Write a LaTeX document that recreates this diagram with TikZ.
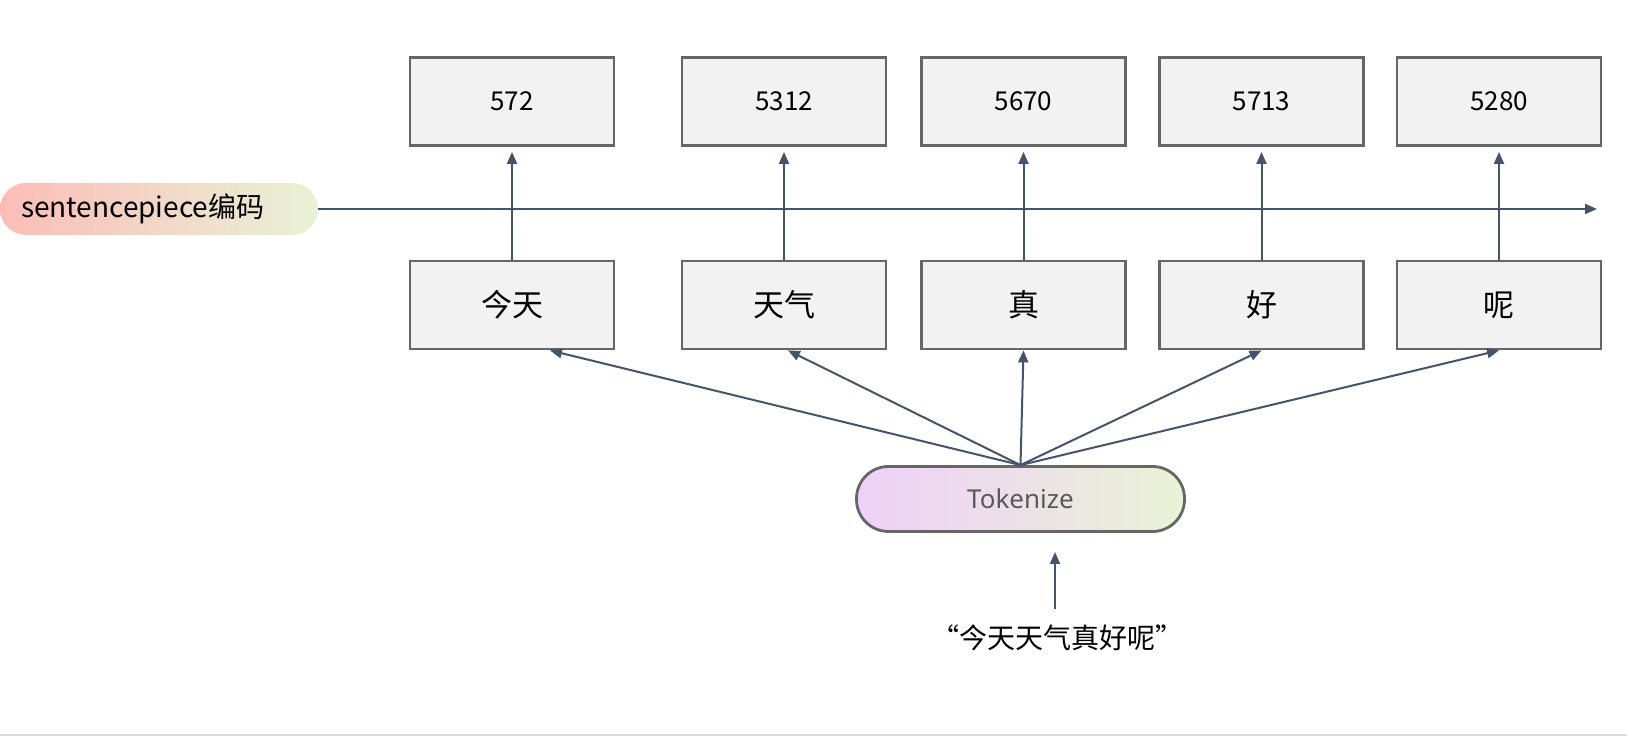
\documentclass[tikz,border=0pt]{standalone}
\usepackage{fontspec}
\setmainfont{Noto Sans CJK SC}
\newfontfamily\tokfont{Noto Sans}
\usetikzlibrary{arrows.meta}
\definecolor{arrowblue}{HTML}{44546A}
\definecolor{boxgray}{HTML}{F2F2F2}
\definecolor{edgegray}{HTML}{666666}
\definecolor{pillred}{HTML}{FBBDB7}
\definecolor{pillgreen}{HTML}{E9F2D6}
\definecolor{pillviolet}{HTML}{EFD0F8}
\definecolor{tokgray}{HTML}{595959}
\begin{document}
\begin{tikzpicture}[x=1pt, y=1pt,
        tokbox/.style={draw=edgegray, fill=boxgray, line width=2.8pt, minimum width=204pt, minimum height=88pt, inner sep=0pt},
        arr/.style={draw=arrowblue, line width=2pt, -{Triangle[length=12pt,width=10pt]}},
        pill/.style={right color=pillgreen, inner sep=0pt}]
    \useasboundingbox (0,0) rectangle (1627,736);
    \fill[black!14] (0,0) rectangle (1627,2.5);
    \node[pill, left color=pillred, minimum height=52pt, rounded corners=26pt, text width=276pt, inner xsep=21pt, align=left, font=\fontsize{28}{28}\selectfont] (sp) at (159,527) {sentencepiece编码};
    \coordinate (axisend) at (1597,527);
    \draw[arr] (sp.east) -- (axisend);
    \node[pill, left color=pillviolet, draw=edgegray, line width=2.8pt, minimum width=328pt, minimum height=65pt, rounded corners=32pt, text=tokgray, font=\tokfont\fontsize{26}{26}\selectfont] (tok) at (1020.5,237) {Tokenize};
    \foreach \x/\i/\w/\n/\d in {512/1/今天/572/38, 784/2/天气/5312/4, 1023.5/3/真/5670/0, 1261.5/4/好/5713/0, 1499/5/呢/5280/0} {
        \node[tokbox, font=\fontsize{31}{31}\selectfont] (w\i) at (\x,431) {\w};
        \node[tokbox, font=\fontsize{26}{26}\selectfont] (n\i) at (\x,634.5) {\n};
        \draw[arr, shorten >=5pt] (w\i.north) -- (n\i.south);
        \draw[arr] (tok.north) -- ([xshift=\d pt]w\i.south);
    }
    \node[font=\fontsize{28}{28}\selectfont] (quote) at (1057,98) {“今天天气真好呢”};
    \coordinate (tokin) at (1055,184);
    \draw[arr] ([xshift=-2pt, yshift=12pt]quote.north) -- (tokin);
\end{tikzpicture}
\end{document}
